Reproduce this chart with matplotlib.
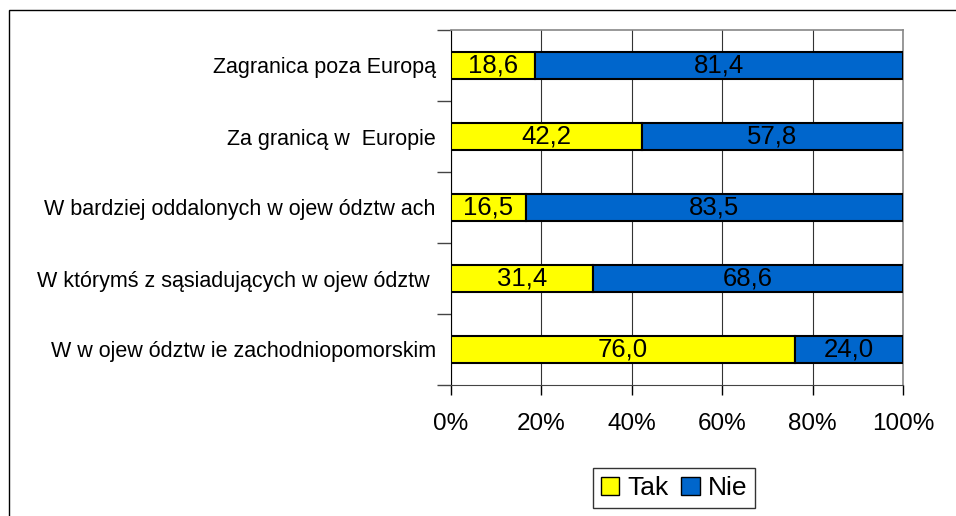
import matplotlib.pyplot as plt
import matplotlib.patches as mpatches
import numpy as np

plt.rcParams['font.family'] = ['Liberation Sans', 'DejaVu Sans']

# kategorie od dołu do góry
kategorie = [
    "W w ojew ództw ie zachodniopomorskim",
    "W którymś z sąsiadujących w ojew ództw ",
    "W bardziej oddalonych w ojew ództw ach",
    "Za granicą w  Europie",
    "Zagranica poza Europą",
]
tak = [76.0, 31.4, 16.5, 42.2, 18.6]
nie = [24.0, 68.6, 83.5, 57.8, 81.4]
x_ticks = [0, 20, 40, 60, 80, 100]

kolor_tak = "#FFFF00"
kolor_nie = "#0066CC"

fig = plt.figure(figsize=(9.56, 5.16), dpi=100)
# ramka wokół całego wykresu
fig.patches.append(mpatches.Rectangle((9 / 956, -0.01), 1.0, 1 - 10 / 516 + 0.01,
                                      transform=fig.transFigure, fill=False,
                                      edgecolor="black", linewidth=1.0))

ax = fig.add_axes([451 / 956, 1 - 385 / 516, 452 / 956, 355 / 516])
y = np.arange(len(kategorie))
ax.barh(y, tak, height=0.38, color=kolor_tak, edgecolor="black", linewidth=1.5, zorder=3)
ax.barh(y, nie, left=tak, height=0.38, color=kolor_nie, edgecolor="black", linewidth=1.5, zorder=3)

for i in range(len(kategorie)):
    ax.text(tak[i] / 2, y[i], f"{tak[i]:.1f}".replace(".", ","), ha="center", va="center",
            fontsize=18.5, color="black", zorder=4)
    ax.text(tak[i] + nie[i] / 2, y[i], f"{nie[i]:.1f}".replace(".", ","), ha="center",
            va="center", fontsize=18.5, color="black", zorder=4)

ax.set_xlim(0, 100)
ax.set_ylim(-0.5, len(kategorie) - 0.5)
ax.set_xticks(x_ticks)
ax.set_xticklabels([f"{v}%" for v in x_ticks], fontsize=17.5)
ax.tick_params(axis="x", direction="out", length=7, width=1, pad=13, color="black")
ax.set_yticks(y)
ax.set_yticklabels(kategorie, fontsize=15.5)
ax.tick_params(axis="y", which="major", length=0, pad=11)
ax.set_yticks(np.arange(-0.5, len(kategorie), 1.0), minor=True)
ax.tick_params(axis="y", which="minor", direction="out", length=10, width=1, color="#444444")

ax.grid(axis="x", color="#333333", linewidth=0.8, zorder=0)
for s in ["top", "right"]:
    ax.spines[s].set_color("#888888")
    ax.spines[s].set_linewidth(1.2)
ax.spines["left"].set_color("black")
ax.spines["bottom"].set_color("#444444")

uchwyty = [mpatches.Patch(facecolor=kolor_tak, edgecolor="black", label="Tak"),
           mpatches.Patch(facecolor=kolor_nie, edgecolor="black", label="Nie")]
leg = fig.legend(handles=uchwyty, loc="center", bbox_to_anchor=(674 / 956, 1 - 488 / 516),
                 ncol=2, fontsize=19, frameon=True, fancybox=False, handlelength=0.7,
                 handleheight=0.7, handletextpad=0.3, columnspacing=0.5,
                 borderpad=0.3, edgecolor="black")
leg.get_frame().set_linewidth(1.0)

fig.savefig("out.png", dpi=100)
